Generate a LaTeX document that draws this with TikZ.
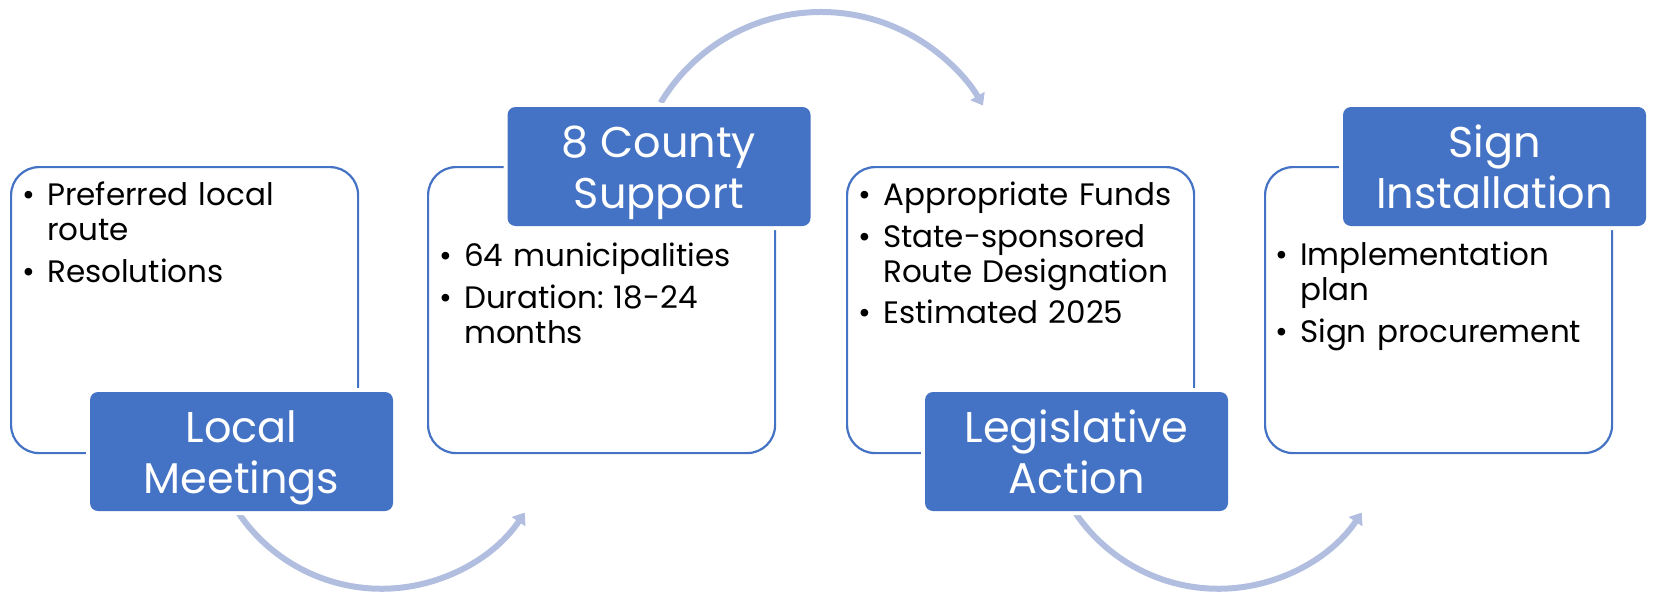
\documentclass[tikz,border=0pt]{standalone}
\usepackage{fontspec}
\setmainfont{Poppins}
\usetikzlibrary{arrows.meta}
\definecolor{accent}{HTML}{4472C4}
\definecolor{arcc}{RGB}{178,190,224}
\newcommand{\bul}[1]{\par\hangindent=20pt\hangafter=1\noindent\makebox[20pt][l]{\hspace{-5pt}\textbullet}#1}
\newcommand{\tl}[2]{\rule{0pt}{44pt}#1\\#2\rule[-12pt]{0pt}{0pt}}
\begin{document}
\begin{tikzpicture}[x=1pt,y=-1pt,
  outline/.style={rectangle, draw=accent, line width=2.2pt, rounded corners=28pt,
    minimum width=347pt, minimum height=286pt, anchor=north west, inner sep=0pt},
  titlebox/.style={rectangle, fill=accent, rounded corners=8pt, text=white,
    minimum width=303pt, minimum height=119pt, inner sep=0pt, align=center,
    font=\fontsize{43}{51}\selectfont, preaction={draw=white, line width=8pt}},
  listbox/.style={anchor=north west, inner sep=0pt, text width=310pt, align=left,
    font=\fontsize{31}{35}\selectfont\frenchspacing},
  flow/.style={draw=arcc, line width=6pt, -{Triangle[width=16pt,length=11pt]}}]
\useasboundingbox (0,0) rectangle (1654,597);
% outlines
\node[outline] (b1) at (10,166) {};
\node[outline] (b2) at (427,166) {};
\node[outline] (b3) at (846,166) {};
\node[outline] (b4) at (1264,166) {};
% lists
\node[listbox] (l1) at (27,164) {\setlength{\parskip}{6.5pt}\bul{Preferred local route}\bul{Resolutions}\par};
\node[listbox] (l2) at (444,225) {\setlength{\parskip}{6.5pt}\bul{64 municipalities}\bul{Duration: 18-24 months}\par};
\node[listbox] (l3) at (863,164) {\setlength{\parskip}{6.5pt}\bul{Appropriate Funds}\bul{State-sponsored Route Designation}\bul{Estimated 2025}\par};
\node[listbox] (l4) at (1280,224) {\setlength{\parskip}{6.5pt}\bul{Implementation plan}\bul{Sign procurement}\par};
% arcs
\coordinate (a1s) at (238.2,512.6);
\coordinate (a2s) at (660.7,102.7);
\coordinate (a3s) at (1075.2,512.6);
\draw[flow] (a1s) arc[start angle=146, end angle=34, radius=172.8];
\draw[flow] (a2s) arc[start angle=211, end angle=330, radius=187];
\draw[flow] (a3s) arc[start angle=146, end angle=34, radius=172.8];
% titles
\node[titlebox] (t1) at (241.5,451.5) {\tl{Local}{Meetings}};
\node[titlebox] (t2) at (659,166.5) {\tl{8 County}{Support}};
\node[titlebox] (t3) at (1076.5,451.5) {\tl{Legislative}{Action}};
\node[titlebox] (t4) at (1494.5,166.5) {\tl{Sign}{Installation}};
\end{tikzpicture}
\end{document}
